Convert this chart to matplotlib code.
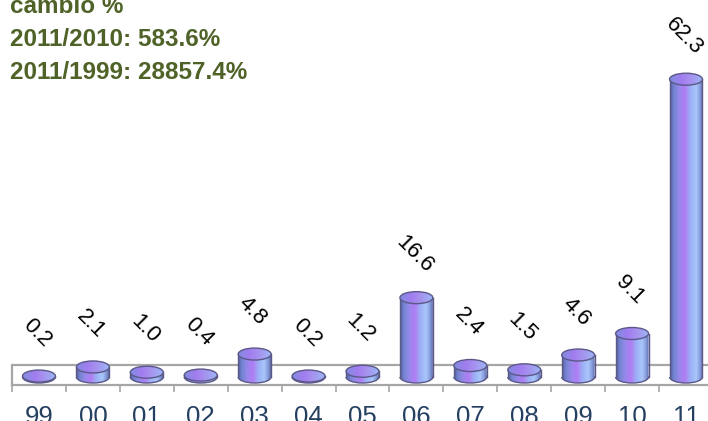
import numpy as np
import matplotlib
matplotlib.use("Agg")
import matplotlib.pyplot as plt
from matplotlib.patches import Ellipse, Arc, Rectangle, PathPatch
from matplotlib.path import Path
from matplotlib.colors import LinearSegmentedColormap

plt.rcParams['font.family'] = ['Liberation Sans', 'DejaVu Sans']

# ---- data ----
years = ['99', '00', '01', '02', '03', '04', '05', '06', '07', '08', '09', '10', '11']
values = [0.2, 2.1, 1.0, 0.4, 4.8, 0.2, 1.2, 16.6, 2.4, 1.5, 4.6, 9.1, 62.3]
header_lines = ['cambio %', '2011/2010: 583.6%', '2011/1999: 28857.4%']

W, H = 708, 421
fig = plt.figure(figsize=(W / 100, H / 100), dpi=100)
ax = fig.add_axes([12 / W, 36 / H, (W - 12) / W, (H - 36) / H])

px_per_cat = 53.92
px_per_unit = 4.78
x_lo = -0.5
x_hi = x_lo + (W - 12) / px_per_cat
y_lo = -8 / px_per_unit
y_hi = y_lo + (H - 36) / px_per_unit

side_cmap = LinearSegmentedColormap.from_list('side', [
    (0.0, '#55619c'), (0.12, '#7484d2'), (0.30, '#9a88ee'), (0.45, '#b07cf4'),
    (0.62, '#9cb0f6'), (0.80, '#aac6fa'), (0.92, '#8399da'), (1.0, '#5e6ba2')])
top_cmap = LinearSegmentedColormap.from_list('top', [
    (0.0, '#7f8ee0'), (0.35, '#a27cf0'), (0.6, '#a690ee'), (1.0, '#9cb6f6')])

bw = 0.61                       # bar width in category units
eh = 12 / px_per_unit           # ellipse height in value units
grad = np.linspace(0, 1, 256).reshape(1, -1)
edge = '#5b5888'

# floor
ax.axhline(2.5, color='#a6a6a6', lw=1.6, zorder=1)

for i, v in enumerate(values):
    x0 = i - bw / 2
    rect = Rectangle((x0, 0), bw, v)
    ell_b = Ellipse((i, 0), bw, eh)
    p1 = rect.get_patch_transform().transform_path(rect.get_path())
    p2 = ell_b.get_patch_transform().transform_path(ell_b.get_path())
    clip = Path.make_compound_path(p1, p2)
    im = ax.imshow(grad, extent=[x0, x0 + bw, -eh / 2, v + eh / 2], aspect='auto',
                   cmap=side_cmap, zorder=3, interpolation='bilinear')
    cp = PathPatch(clip, transform=ax.transData, facecolor='none', edgecolor='none')
    ax.add_patch(cp)
    im.set_clip_path(cp)
    ax.plot([x0, x0], [0, v], color=edge, lw=1.0, zorder=4)
    ax.plot([x0 + bw, x0 + bw], [0, v], color=edge, lw=1.0, zorder=4)
    ax.add_patch(Arc((i, 0), bw, eh, theta1=180, theta2=360, color=edge, lw=1.0, zorder=4))
    ell_t = Ellipse((i, v), bw, eh, facecolor='none', edgecolor='none')
    ax.add_patch(ell_t)
    im2 = ax.imshow(grad, extent=[x0, x0 + bw, v - eh / 2, v + eh / 2], aspect='auto',
                    cmap=top_cmap, zorder=5, interpolation='bilinear')
    im2.set_clip_path(ell_t)
    ax.add_patch(Ellipse((i, v), bw, eh, facecolor='none', edgecolor=edge, lw=1.0, zorder=6))
    ax.annotate(f'{v:.1f}', (i, v), xytext=(-1.5, 31), textcoords='offset points',
                rotation=-45, rotation_mode='anchor', ha='center', va='center',
                fontsize=16, color='black', zorder=7)

ax.set_xlim(x_lo, x_hi)
ax.set_ylim(y_lo, y_hi)

for s in ['top', 'right']:
    ax.spines[s].set_visible(False)
ax.spines['bottom'].set_color('#a6a6a6')
ax.spines['bottom'].set_linewidth(1.6)
ax.spines['left'].set_color('#a6a6a6')
ax.spines['left'].set_linewidth(1.6)
ax.spines['left'].set_bounds(y_lo, 2.5)

ax.set_yticks([])
ax.set_xticks(range(len(years)))
ax.set_xticklabels(years, fontsize=18.5, color='#243f60')
ax.tick_params(axis='x', which='major', length=0, pad=14.5)
ax.set_xticks(np.arange(len(years)) - 0.5, minor=True)
ax.tick_params(axis='x', which='minor', length=5, width=1.2, color='#a6a6a6', direction='out')
ax.patch.set_visible(False)

baselines = [13, 46.5, 79]
for txt, b in zip(header_lines, baselines):
    fig.text(10 / W, 1 - b / H, txt, fontsize=17.5, fontweight='bold', color='#4f6228',
             ha='left', va='baseline')

fig.savefig('out.png', dpi=100)
